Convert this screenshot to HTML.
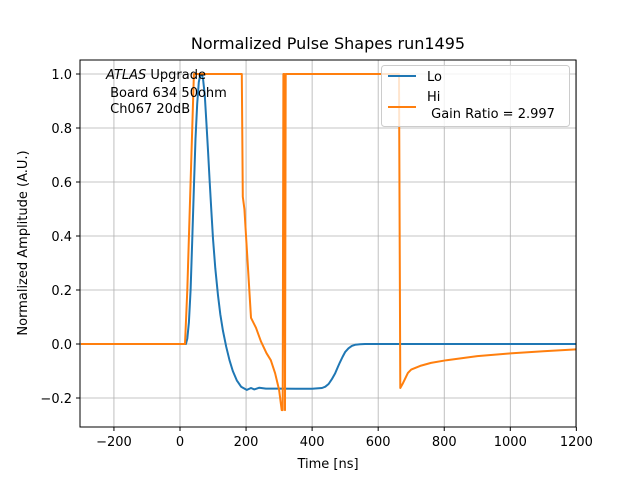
<!DOCTYPE html>
<html><head><meta charset="utf-8"><style>
body{margin:0;background:#fff}
svg{display:block;font-family:"DejaVu Sans","Liberation Sans",sans-serif}
</style></head><body>
<svg id="chart" width="640" height="480">
<rect width="640" height="480" fill="#fff"/>
<g id="grid"></g><g id="ticks"></g><g id="series"></g>
<rect x="80" y="60" width="496" height="367" fill="none" stroke="#000" stroke-width="1"/>
<text x="328" y="49" text-anchor="middle" font-size="16">Normalized Pulse Shapes run1495</text>
<text x="328" y="468" text-anchor="middle" font-size="13">Time [ns]</text>
<text transform="translate(27,243) rotate(-90)" text-anchor="middle" font-size="13">Normalized Amplitude (A.U.)</text>
<g font-size="13">
<text x="106" y="79"><tspan font-style="italic">ATLAS</tspan> Upgrade</text>
<text x="106" y="97">&#160;Board 634 50ohm</text>
<text x="106" y="113">&#160;Ch067 20dB</text>
</g>
<g>
<rect x="381.5" y="65.5" width="188" height="61" rx="3" fill="#fff" fill-opacity="0.8" stroke="#ccc"/>
<line x1="388" y1="76" x2="416" y2="76" stroke="#1f77b4" stroke-width="2"/>
<text x="427" y="81" font-size="13">Lo</text>
<line x1="388" y1="107" x2="416" y2="107" stroke="#ff7f0e" stroke-width="2"/>
<text x="427" y="101" font-size="13">Hi</text>
<text x="427" y="118" font-size="13">&#160;Gain Ratio = 2.997</text>
</g>
</svg>
<script>
const xTicks=[-200,0,200,400,600,800,1000,1200];
const yTicks=[-0.2,0,0.2,0.4,0.6,0.8,1.0];
const loT=[-300,18,22,27,32,37,42,47,52,57,62,66,70,75,80,85,90,95,100,107,115,122,130,140,150,160,172,185,202,215,225,240,260,300,350,400,430,440,450,460,470,478,484,492,500,510,520,530,545,560,600,1200];
const loV=[0,0,0.02,0.08,0.2,0.38,0.58,0.76,0.89,0.97,1.0,1.0,0.98,0.92,0.82,0.71,0.6,0.49,0.39,0.28,0.18,0.11,0.05,-0.01,-0.06,-0.1,-0.135,-0.158,-0.17,-0.163,-0.168,-0.162,-0.165,-0.165,-0.166,-0.166,-0.163,-0.158,-0.148,-0.13,-0.108,-0.085,-0.068,-0.048,-0.03,-0.016,-0.007,-0.003,-0.001,0,0,0];
const hiT=[-300,15,22,42,187,190,195,215,230,245,262,275,288,300,308,311,313,316,318,320,663,667,675,690,700,730,760,807,900,1000,1100,1200];
const hiV=[0,0,0.2,1,1,0.545,0.5,0.097,0.06,0.01,-0.034,-0.06,-0.108,-0.17,-0.245,-0.245,1,1,-0.245,1,1,-0.163,-0.145,-0.107,-0.095,-0.08,-0.07,-0.06,-0.045,-0.035,-0.027,-0.02];
const X=v=>180+(v)*0.3303, Y=v=>344-v*270;
const NS='http://www.w3.org/2000/svg';
const grid=document.getElementById('grid'),ticks=document.getElementById('ticks'),series=document.getElementById('series');
function mk(tag,attrs,parent){const e=document.createElementNS(NS,tag);for(const k in attrs)e.setAttribute(k,attrs[k]);parent.appendChild(e);return e;}
xTicks.forEach(t=>{const x=X(t);
 const g=mk('line',{x1:x,x2:x,y1:60,y2:427,stroke:'#b0b0b0','stroke-width':0.8},grid);
 
 mk('line',{x1:x,x2:x,y1:427,y2:431,stroke:'#000'},ticks);
 const l=mk('text',{x:x,y:446,'text-anchor':'middle','font-size':13},ticks);
 
 l.textContent=t<0?'\u2212'+(-t):String(t);});
yTicks.forEach(t=>{const y=Y(t);
 const g=mk('line',{x1:80,x2:576,y1:y,y2:y,stroke:'#b0b0b0','stroke-width':0.8},grid);
 
 mk('line',{x1:76,x2:80,y1:y,y2:y,stroke:'#000'},ticks);
 const l=mk('text',{x:72,y:y+5,'text-anchor':'end','font-size':13},ticks);
 
 l.textContent=(t<0?'\u2212':'')+Math.abs(t).toFixed(1);});
function line(ts,vs,color,name){
 const d=ts.map((t,i)=>(i?'L':'M')+X(t).toFixed(1)+','+Y(vs[i]).toFixed(1)).join('');
 const p=mk('path',{d:d,fill:'none',stroke:color,'stroke-width':2,'stroke-linejoin':'round'},series);
 }
const clip=mk('clipPath',{id:'c'},document.getElementById('chart'));mk('rect',{x:80,y:60,width:496,height:367},clip);
series.setAttribute('clip-path','url(#c)');
line(loT,loV,'#1f77b4','lo-series');
line(hiT,hiV,'#ff7f0e','hi-series');
</script>
</body></html>
